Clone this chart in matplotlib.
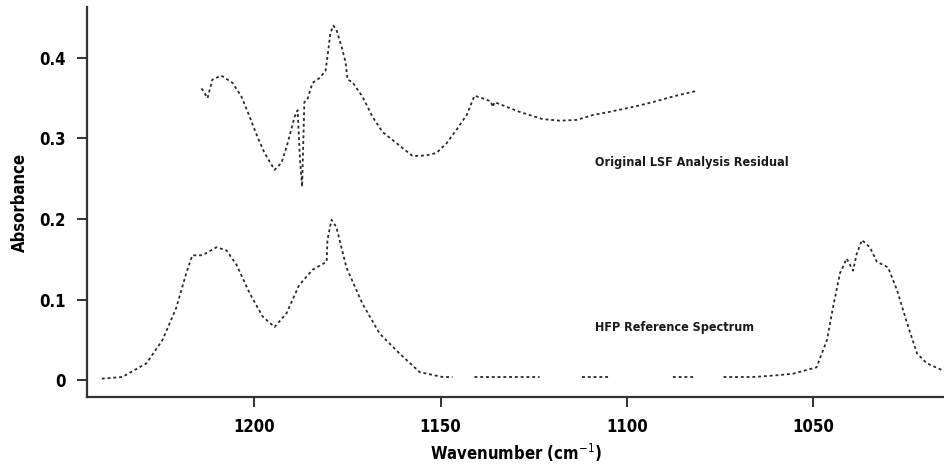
import numpy as np
import matplotlib
matplotlib.use("Agg")
import matplotlib.pyplot as plt

plt.rcParams['font.family'] = ['DejaVu Sans']
plt.rcParams['font.stretch'] = 'condensed'

# ---------------- data ----------------
# HFP reference spectrum, wavenumber (cm-1) / absorbance; NaN = gap in the trace
hfp_wn = [1241, 1235.5, 1229, 1224.7, 1221, 1218.3, 1216.7, 1214, 1210.2, 1207.5,
          1204.8, 1201.3, 1197.8, 1194.6, 1191.4, 1188, 1184.4, 1180.6, 1180.4, 1179.3,
          1178, 1175.3, 1171, 1166.4, 1161, 1155.6, 1149.5, 1146.8, 1144,
          1140.9, 1123.4, 1118, 1112, 1105, 1096, 1087.6, 1082, 1078,
          1074, 1066, 1060, 1055.4, 1049, 1046.2, 1044.6, 1042.7, 1040.9, 1039.2,
          1038.2, 1036.8, 1034.7, 1032.8, 1029.8, 1027.4, 1024.7, 1022, 1019.4, 1015]
hfp_abs = [0.002, 0.004, 0.021, 0.05, 0.09, 0.133, 0.155, 0.155, 0.165, 0.161,
           0.143, 0.108, 0.079, 0.066, 0.083, 0.118, 0.137, 0.147, 0.174, 0.199,
           0.19, 0.14, 0.095, 0.058, 0.033, 0.01, 0.004, 0.004, np.nan,
           0.004, 0.004, np.nan, 0.004, 0.004, np.nan, 0.004, 0.004, np.nan,
           0.004, 0.004, 0.006, 0.008, 0.016, 0.05, 0.09, 0.133, 0.151, 0.136,
           0.157, 0.174, 0.165, 0.147, 0.14, 0.112, 0.071, 0.033, 0.021, 0.012]

# Original LSF analysis residual
res_wn = [1214.2, 1212.6, 1211.3, 1208.9, 1205.9, 1203.5, 1201.3, 1199.2, 1197.3, 1194.6,
          1192.7, 1191.1, 1189.2, 1188.4, 1187.8, 1187.2, 1186.6, 1185.8, 1184.4, 1182.5,
          1180.9, 1180.4, 1179.6, 1178.8, 1178, 1176.6, 1175.5, 1175, 1173.7, 1171,
          1168.3, 1165.6, 1161.8, 1157.5, 1153.8, 1151.1, 1148.4, 1145.7, 1143, 1140.9,
          1139.5, 1136.5, 1136, 1135.5, 1128.8, 1122.6, 1118, 1113.4, 1109.1, 1104.6,
          1098.4, 1093, 1087.6, 1081.2]
res_abs = [0.362, 0.35, 0.373, 0.378, 0.369, 0.352, 0.327, 0.302, 0.282, 0.261,
           0.27, 0.294, 0.327, 0.335, 0.276, 0.24, 0.345, 0.348, 0.369, 0.375,
           0.384, 0.401, 0.431, 0.44, 0.435, 0.414, 0.394, 0.373, 0.37, 0.352,
           0.327, 0.308, 0.294, 0.278, 0.279, 0.282, 0.294, 0.311, 0.329, 0.353,
           0.351, 0.346, 0.339, 0.345, 0.333, 0.324, 0.322, 0.323, 0.329, 0.333,
           0.339, 0.345, 0.352, 0.359]

x_ticks = [1200, 1150, 1100, 1050]
y_ticks = [0, 0.1, 0.2, 0.3, 0.4]
y_tick_labels = ["0", "0.1", "0.2", "0.3", "0.4"]

# ---------------- plot ----------------
fig = plt.figure(figsize=(9.45, 4.70), dpi=100)
ax = fig.add_axes([0.092, 0.155, 0.908, 0.83])

line_kw = dict(color="#2a2a2a", linestyle=(0, (1.6, 1.6)), linewidth=1.3)
ax.plot(hfp_wn, hfp_abs, **line_kw)
ax.plot(res_wn, res_abs, **line_kw)

ax.text(1108.6, 0.27, "Original LSF Analysis Residual", fontsize=9,
        fontweight="bold", va="center", ha="left", color="#1a1a1a")
ax.text(1108.6, 0.065, "HFP Reference Spectrum", fontsize=9,
        fontweight="bold", va="center", ha="left", color="#1a1a1a")

ax.set_xlim(1245, 1014.5)
ax.set_ylim(-0.021, 0.463)
ax.set_xticks(x_ticks)
ax.set_yticks(y_ticks)
ax.set_yticklabels(y_tick_labels)

for s in ["top", "right"]:
    ax.spines[s].set_visible(False)
for s in ["left", "bottom"]:
    ax.spines[s].set_linewidth(1.6)
    ax.spines[s].set_color("#333333")

ax.tick_params(direction="out", length=7, width=1.4, color="#333333",
               labelsize=12, pad=8)
for lbl in ax.get_xticklabels() + ax.get_yticklabels():
    lbl.set_fontweight("bold")

ax.set_xlabel("Wavenumber (cm$^{-1}$)", fontsize=12, fontweight="bold", labelpad=4)
ax.set_ylabel("Absorbance", fontsize=12, fontweight="bold", labelpad=8)

fig.savefig("out.png", dpi=100)
